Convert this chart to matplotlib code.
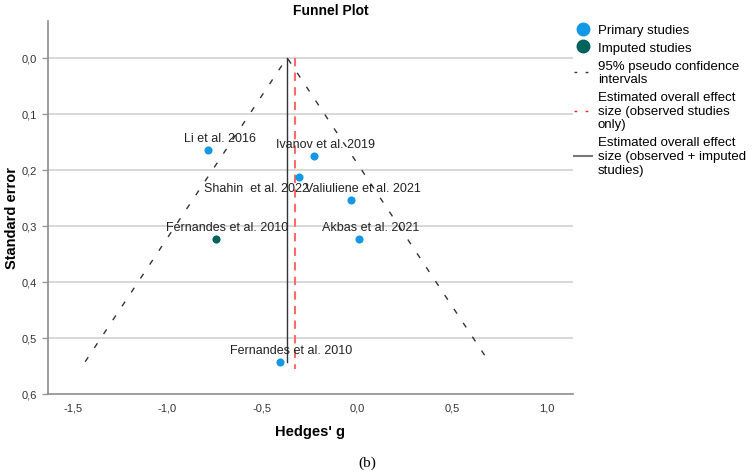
import matplotlib
matplotlib.use("Agg")
import matplotlib.pyplot as plt
from matplotlib.lines import Line2D
from matplotlib.ticker import FuncFormatter

plt.rcParams["font.family"] = ["Liberation Sans", "DejaVu Sans"]

# primary (observed) studies: Hedges' g and standard error
studies = ["Li et al. 2016", "Ivanov et al. 2019", "Shahin  et al. 2022",
           "Valiuliene et al. 2021", "Akbas et al. 2021", "Fernandes et al. 2010"]
g_obs = [-0.786, -0.230, -0.305, -0.033, 0.007, -0.409]
se_obs = [0.164, 0.175, 0.2125, 0.254, 0.324, 0.543]

# trim-and-fill imputed study
imp_studies = ["Fernandes et al. 2010"]
g_imp = [-0.747]
se_imp = [0.324]

# overall estimates
est_observed = -0.326     # observed studies only
est_adjusted = -0.370     # observed + imputed
se_line_obs = 0.556
se_line_adj = 0.543
se_funnel = 0.543

x_ticks = [-1.5, -1.0, -0.5, 0.0, 0.5, 1.0]
y_ticks = [0.0, 0.1, 0.2, 0.3, 0.4, 0.5, 0.6]

BLUE = "#1398e6"
TEAL = "#00625c"
RED = "#ff6a6a"
DARK = "#333333"

W, H = 753, 477
fig = plt.figure(figsize=(W / 100, H / 100), dpi=100)
ax = fig.add_axes([48 / W, 1 - 394.7 / H, (573 - 48) / W, (394.7 - 21.7) / H])

# grid (only inner lines)
for yv in y_ticks[:-1]:
    ax.axhline(yv, color="#d2d2d2", lw=1.2, zorder=0)

# funnel (95% pseudo CI) around the adjusted estimate
ax.plot([est_adjusted - 1.96 * se_funnel, est_adjusted, est_adjusted + 1.96 * se_funnel],
        [se_funnel, 0, se_funnel], color=DARK, lw=1.0, dashes=(4, 8), zorder=2)
ax.plot([est_observed, est_observed], [0, se_line_obs], color=RED, lw=1.5,
        dashes=(4, 3), zorder=2)
ax.plot([est_adjusted, est_adjusted], [0, se_line_adj], color=DARK, lw=1.0, zorder=3)

ax.scatter(g_obs, se_obs, s=34, color=BLUE, zorder=4, linewidths=0)
ax.scatter(g_imp, se_imp, s=34, color=TEAL, zorder=4, linewidths=0)

# label offsets in points (x, y)
offsets = {"Shahin  et al. 2022": (-31, -8)}
for name, gx, sy in list(zip(studies, g_obs, se_obs)) + list(zip(imp_studies, g_imp, se_imp)):
    dx, dy = offsets.get(name, (8.6, 8.6))
    ax.annotate(name, (gx, sy), xytext=(dx, dy), textcoords="offset points",
                ha="center", va="center", fontsize=9, color="#222222")

ax.set_xlim(-1.63, 1.137)
ax.set_ylim(0.6, -0.066)
ax.set_xticks(x_ticks)
ax.set_yticks(y_ticks)
fmt = FuncFormatter(lambda v, p: f"{v:.1f}".replace(".", ","))
ax.xaxis.set_major_formatter(fmt)
ax.yaxis.set_major_formatter(fmt)
ax.tick_params(axis="x", length=0, pad=6, labelsize=8, colors="#333333")
ax.tick_params(axis="y", length=4, width=1, color="#999999", labelsize=8,
               labelcolor="#333333", pad=4)
for s in ("top", "right"):
    ax.spines[s].set_visible(False)
for s in ("left", "bottom"):
    ax.spines[s].set_color("#8c8c8c")
    ax.spines[s].set_linewidth(1.2)

fig.text(331 / W, 1 - 11 / H, "Funnel Plot", ha="center", va="center",
         fontsize=10, fontweight="bold")
fig.text(310 / W, 1 - 432 / H, "Hedges' g", ha="center", va="center",
         fontsize=10.5, fontweight="bold")
fig.text(12 / W, 1 - 218 / H, "Standard error", ha="center", va="center",
         rotation=90, fontsize=10.5, fontweight="bold")
fig.text(367 / W, 1 - 463 / H, "(b)", ha="center", va="center", fontsize=11,
         family=["Liberation Serif", "DejaVu Serif"])

handles = [
    Line2D([], [], marker="o", ls="none", color=BLUE, markersize=9),
    Line2D([], [], marker="o", ls="none", color=TEAL, markersize=9),
    Line2D([], [], color=DARK, lw=1.0, dashes=(2, 6)),
    Line2D([], [], color="#ff2020", lw=1.0, dashes=(2, 6)),
    Line2D([], [], color="#777777", lw=1.5),
]
labels = ["Primary studies", "Imputed studies",
          "95% pseudo confidence\nintervals",
          "Estimated overall effect\nsize (observed studies\nonly)",
          "Estimated overall effect\nsize (observed + imputed\nstudies)"]
fig.legend(handles, labels, loc="upper left", bbox_to_anchor=(574 / W, 1 - 25 / H),
           frameon=False, fontsize=9.5, handlelength=1.4, handletextpad=0.4,
           labelspacing=0.42, borderpad=0, borderaxespad=0)

fig.savefig("out.png", dpi=100)
